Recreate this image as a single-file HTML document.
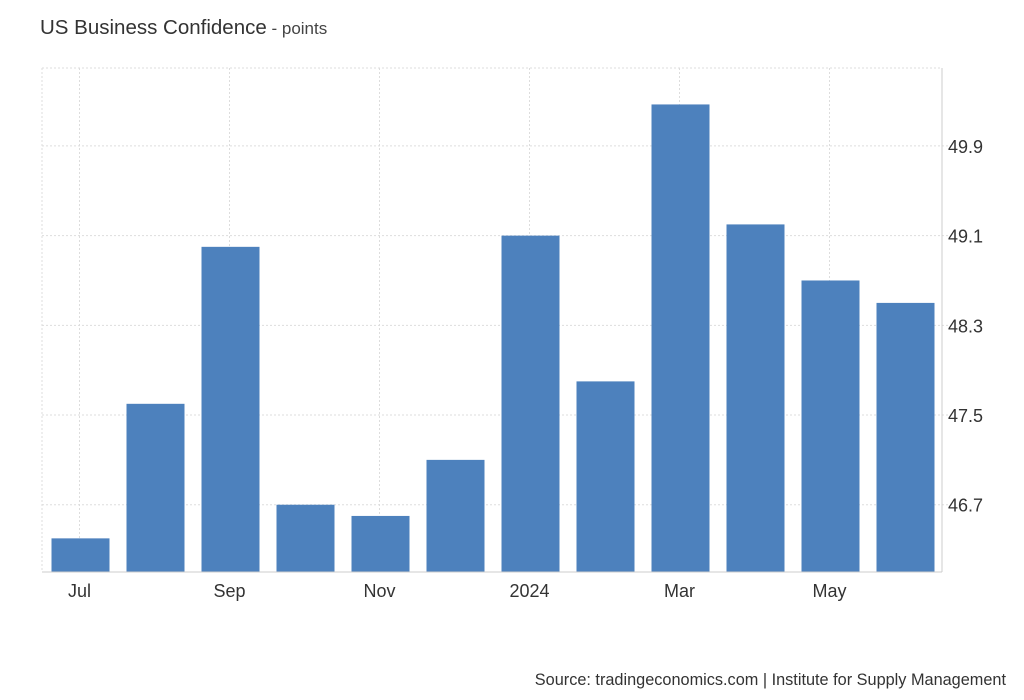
<!DOCTYPE html>
<html><head><meta charset="utf-8"><style>
html,body{margin:0;padding:0;background:#fff;width:1024px;height:700px;overflow:hidden}
text{font-family:"Liberation Sans",Arial,sans-serif}
</style></head><body>
<svg id="chart" width="1024" height="700" xmlns="http://www.w3.org/2000/svg">
<text x="40" y="34" font-size="20.5" fill="#333">US Business Confidence<tspan font-size="17" fill="#444"> - points</tspan></text>
<g id="grid"></g><g id="bars"></g><g id="axes"></g>
<text x="1006" y="685" font-size="16.3" fill="#333" text-anchor="end">Source: tradingeconomics.com | Institute for Supply Management</text>
</svg>
<script>
const categories=["Jul","Aug","Sep","Oct","Nov","Dec","2024","Feb","Mar","Apr","May","Jun"];
const values=[46.4,47.6,49.0,46.7,46.6,47.1,49.1,47.8,50.27,49.2,48.7,48.5];
const yTicks=[46.7,47.5,48.3,49.1,49.9];
const xLabelIdx=[0,2,4,6,8,10];
const xLabels=["Jul","Sep","Nov","2024","Mar","May"];
const NS="http://www.w3.org/2000/svg";
const L=42,R=942,T=68,B=572,yMin=46.1,yMax=50.595;
const band=(R-L)/categories.length;
const xc=i=>L+band*(i+0.5);
const y=v=>B-(v-yMin)/(yMax-yMin)*(B-T);
function mk(tag,attrs,parent){const e=document.createElementNS(NS,tag);for(const k in attrs)e.setAttribute(k,attrs[k]);parent.appendChild(e);return e;}
const grid=document.getElementById('grid'),bars=document.getElementById('bars'),axes=document.getElementById('axes');
let g=mk('line',{x1:L,x2:R,y1:T,y2:T,stroke:'#ddd','stroke-dasharray':'2,2'},grid);


g=mk('line',{x1:L,x2:L,y1:T,y2:B,stroke:'#ddd','stroke-dasharray':'2,2'},grid);


yTicks.forEach(t=>{
 const l=mk('line',{x1:L,x2:R+12,y1:y(t),y2:y(t),stroke:'#ddd','stroke-dasharray':'2,2'},grid);
 
 
 const tx=mk('text',{x:948,y:y(t)+7,'font-size':18,fill:'#333'},axes);
 tx.textContent=t.toFixed(1);
 
 
});
xLabelIdx.forEach((i,k)=>{
 const l=mk('line',{x1:xc(i),x2:xc(i),y1:T,y2:B,stroke:'#ddd','stroke-dasharray':'2,2'},grid);
 
 
 const tx=mk('text',{x:xc(i),y:597,'font-size':18,fill:'#333','text-anchor':'middle'},axes);
 tx.textContent=xLabels[k];
 
 
});
values.forEach((v,i)=>{
 const r=mk('rect',{x:xc(i)-28,y:y(v),width:58,height:B-y(v),fill:'#4d81bd'},bars);
 
 
});
let a=mk('line',{x1:L,x2:R,y1:B,y2:B,stroke:'#ccc'},axes);


a=mk('line',{x1:R,x2:R,y1:T,y2:B,stroke:'#ccc'},axes);


</script>
</body></html>
